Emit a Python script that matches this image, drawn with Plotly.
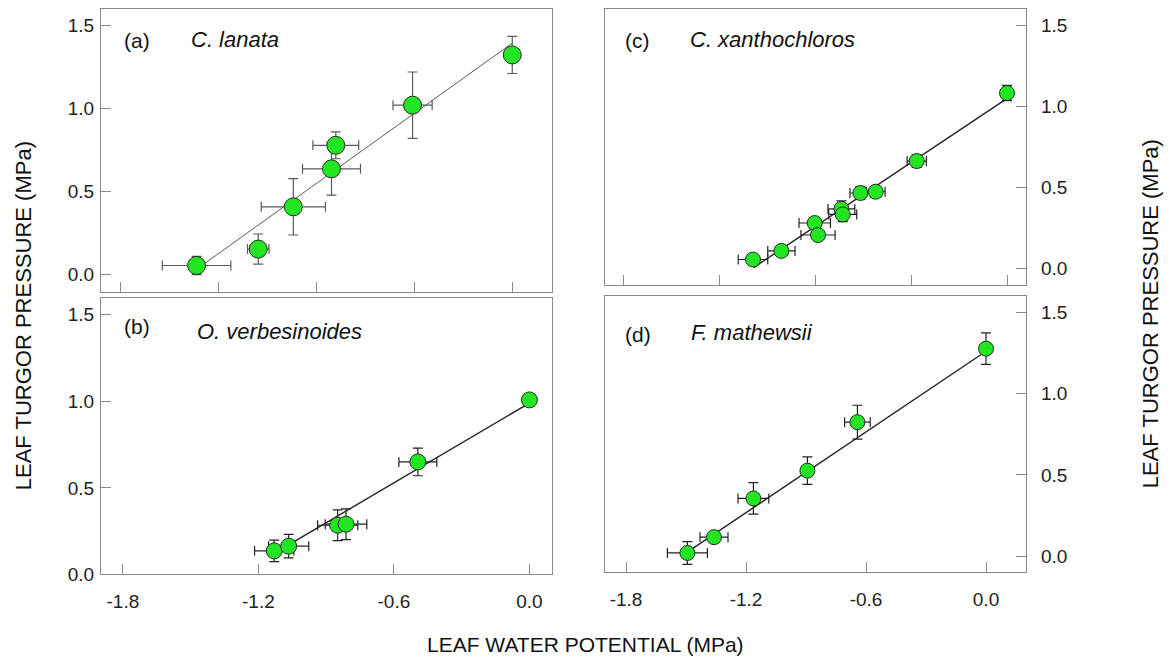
import plotly.graph_objects as go

# page body has an 8px margin: figure is 1158x653 placed at (8, 8)
OFF = 8
W, H = 1174 - 2 * OFF, 669 - 2 * OFF

# ---------------- data ----------------
# (a) C. lanata
a_x = [-1.612, -1.297, -1.118, -0.901, -0.923, -0.509, 0.0]
a_y = [0.053, 0.152, 0.407, 0.778, 0.636, 1.020, 1.323]
a_xerr = [0.175, 0.055, 0.164, 0.117, 0.148, 0.100, 0.0]
a_yerr = [0.055, 0.091, 0.170, 0.081, 0.158, 0.200, 0.112]
a_fit_x = [-1.578, 0.0]
a_fit_y = [0.059, 1.394]

# (b) O. verbesinoides
b_x = [-1.130, -1.066, -0.849, -0.812, -0.494, 0.0]
b_y = [0.136, 0.163, 0.284, 0.290, 0.650, 1.008]
b_xerr = [0.087, 0.089, 0.089, 0.092, 0.084, 0.0]
b_yerr = [0.062, 0.068, 0.089, 0.089, 0.080, 0.020]
b_fit_x = [-1.10, 0.0]
b_fit_y = [0.145, 0.990]

# (c) C. xanthochloros
c_x = [-1.325, -1.177, -1.003, -0.986, -0.864, -0.857, -0.765, -0.685, -0.471, 0.0]
c_y = [0.056, 0.109, 0.281, 0.207, 0.368, 0.334, 0.466, 0.474, 0.663, 1.082]
c_xerr = [0.077, 0.071, 0.082, 0.089, 0.070, 0.073, 0.054, 0.049, 0.050, 0.0]
c_yerr = [0.016, 0.016, 0.030, 0.030, 0.050, 0.044, 0.040, 0.030, 0.040, 0.047]
c_fit_x = [-1.322, -0.005]
c_fit_y = [0.006, 1.045]

# (d) F. mathewsii
d_x = [-1.493, -1.360, -1.163, -0.893, -0.643, 0.0]
d_y = [0.020, 0.117, 0.355, 0.526, 0.824, 1.276]
d_xerr = [0.100, 0.070, 0.077, 0.0, 0.064, 0.0]
d_yerr = [0.070, 0.030, 0.097, 0.085, 0.104, 0.097]
d_fit_x = [-1.475, 0.0]
d_fit_y = [0.040, 1.260]

y_ticks = [0.0, 0.5, 1.0, 1.5]
y_ticktext = ["0.0", "0.5", "1.0", "1.5"]
x_ticks_bottom = [-1.8, -1.2, -0.6, 0.0]
x_ticktext_bottom = ["-1.8", "-1.2", "-0.6", "0.0"]
x_ticks_top = [-2.0, -1.5, -1.0, -0.5, 0.0]

panel_labels = ["(a)", "(b)", "(c)", "(d)"]
species = ["C. lanata", "O. verbesinoides", "C. xanthochloros", "F. mathewsii"]
y_title = "LEAF TURGOR PRESSURE (MPa)"
x_title = "LEAF WATER POTENTIAL (MPa)"

# ---------------- figure ----------------
GREEN = "#22e622"
FONT = "Liberation Sans, Arial, sans-serif"
FRAME = "#8a8a8a"

fig = go.Figure()

panels = [
    (a_x, a_y, a_xerr, a_yerr, a_fit_x, a_fit_y, "", 18, "#5a5a5a", 1.0),
    (b_x, b_y, b_xerr, b_yerr, b_fit_x, b_fit_y, "2", 16, "#222222", 1.4),
    (c_x, c_y, c_xerr, c_yerr, c_fit_x, c_fit_y, "3", 15, "#222222", 1.4),
    (d_x, d_y, d_xerr, d_yerr, d_fit_x, d_fit_y, "4", 15, "#222222", 1.4),
]

for (px, py, pxe, pye, fx, fy, s, msize, lc, lw) in panels:
    xa, ya = "x" + s, "y" + s
    fig.add_trace(go.Scatter(x=fx, y=fy, mode="lines", xaxis=xa, yaxis=ya,
                             line=dict(color=lc, width=lw), showlegend=False,
                             hoverinfo="skip"))
    fig.add_trace(go.Scatter(
        x=px, y=py, mode="markers", xaxis=xa, yaxis=ya, showlegend=False,
        marker=dict(size=msize, color=GREEN, line=dict(color="#2a2a2a", width=1)),
        error_x=dict(type="data", array=pxe, color=lc, thickness=1.2, width=5),
        error_y=dict(type="data", array=pye, color=lc, thickness=1.2, width=5),
    ))


def px2x(p):
    return (p - OFF) / W


def px2y(p):
    return 1 - (p - OFF) / H


tickfont = dict(family=FONT, size=19, color="#222222")
common_ax = dict(showline=True, mirror=True, linecolor=FRAME, linewidth=1.2,
                 ticks="inside", ticklen=10, tickcolor=FRAME, tickwidth=1.2,
                 showgrid=False, zeroline=False, tickfont=tickfont)

# domains in page pixels: (left, right, top, bottom)
dom = {
    "": (101, 552, 7, 296),
    "2": (101, 552, 302, 584),
    "3": (605, 1026, 7, 289),
    "4": (605, 1026, 300, 582),
}
xranges = {"": [-2.10, 0.203], "2": [-1.897, 0.10], "3": [-2.097, 0.099], "4": [-1.905, 0.20]}
yranges = {"": [-0.105, 1.60], "2": [0.0, 1.599], "3": [-0.10, 1.60], "4": [-0.10, 1.602]}

layout = dict()
for s in ["", "2", "3", "4"]:
    l, r, t, b = dom[s]
    top = s in ("", "3")
    right = s in ("3", "4")
    xax = dict(common_ax, domain=[px2x(l), px2x(r)], range=xranges[s],
               anchor="y" + s)
    if top:
        xax.update(tickvals=x_ticks_top, showticklabels=False)
    else:
        xax.update(tickvals=x_ticks_bottom, ticktext=x_ticktext_bottom, ticklabelstandoff=10)
    yax = dict(common_ax, domain=[max(0, px2y(b)), min(1, px2y(t))], range=yranges[s],
               anchor="x" + s, tickvals=y_ticks, ticktext=y_ticktext,
               side="right" if right else "left",
               ticklabelstandoff=10 if right else 2)
    layout["xaxis" + s] = xax
    layout["yaxis" + s] = yax

fig.update_layout(**layout)

annotations = []
label_pos = [(122, 40), (122, 331), (623, 40), (623, 340)]
species_pos = [(189, 39), (195, 337), (688, 39), (689, 338)]
for lab, sp, (lx, ly), (sx, sy) in zip(panel_labels, species, label_pos, species_pos):
    annotations.append(dict(text=lab, x=px2x(lx), y=px2y(ly), xref="paper", yref="paper",
                            xanchor="left", yanchor="middle", showarrow=False,
                            font=dict(family=FONT, size=21, color="#111111")))
    annotations.append(dict(text="<i>" + sp + "</i>", x=px2x(sx), y=px2y(sy),
                            xref="paper", yref="paper", xanchor="left", yanchor="middle",
                            showarrow=False,
                            font=dict(family=FONT, size=22, color="#111111")))

annotations.append(dict(text=y_title, x=px2x(23), y=px2y(321), xref="paper", yref="paper",
                        textangle=-90, showarrow=False, xanchor="center", yanchor="middle",
                        font=dict(family=FONT, size=22, color="#111111")))
annotations.append(dict(text=y_title, x=px2x(1150), y=px2y(319), xref="paper", yref="paper",
                        textangle=-90, showarrow=False, xanchor="center", yanchor="middle",
                        font=dict(family=FONT, size=22, color="#111111")))
annotations.append(dict(text=x_title, x=px2x(585), y=px2y(655), xref="paper", yref="paper",
                        showarrow=False, xanchor="center", yanchor="middle",
                        font=dict(family=FONT, size=21, color="#111111")))

fig.update_layout(width=W, height=H, margin=dict(l=0, r=0, t=0, b=0),
                  paper_bgcolor="white", plot_bgcolor="white",
                  annotations=annotations, showlegend=False)

fig.write_html("out.html")
